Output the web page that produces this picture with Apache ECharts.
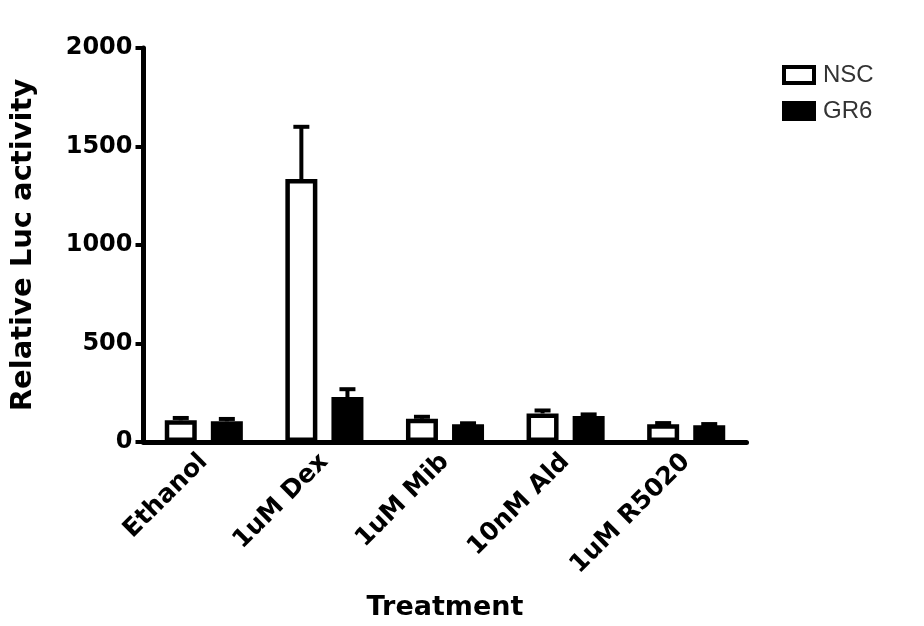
<!DOCTYPE html>
<html>
<head>
<meta charset="utf-8">
<title>Relative Luc activity by treatment</title>
<script src="https://cdn.jsdelivr.net/npm/echarts@6/dist/echarts.min.js"></script>
<style>
  html, body { margin: 0; padding: 0; background: #ffffff; }
  #chart { width: 924px; height: 626px; }
</style>
</head>
<body>
<div id="chart"></div>
<script>
// Treatments on the x axis
const categories = ['Ethanol', '1uM Dex', '1uM Mib', '10nM Ald', '1uM R5020'];
// Mean relative luciferase activity and upper error (SEM) per cell line
const nscValues = [110, 1335, 118, 145, 90];
const nscErrors = [12, 265, 10, 15, 6];
const gr6Values = [105, 228, 90, 132, 85];
const gr6Errors = [12, 40, 5, 8, 6];
const yTicks = [0, 500, 1000, 1500, 2000];

const BAR_W = 32;
const GAP_RATIO = 0.44;
const FONT = 'DejaVu Sans';

// Upward error whiskers centred over each bar of a series
function errorSeries(name, values, errors, side) {
  return {
    type: 'custom',
    name: name + ' err',
    z: 5,
    silent: true,
    data: values.map((v, i) => [i, v, v + errors[i]]),
    renderItem: function (params, api) {
      const off = side * BAR_W * (1 + GAP_RATIO) / 2;
      const base = api.coord([api.value(0), api.value(1)]);
      const top = api.coord([api.value(0), api.value(2)]);
      const x = base[0] + off;
      const capHalf = 8;
      const style = { stroke: '#000', lineWidth: 4, fill: null };
      return {
        type: 'group',
        children: [
          { type: 'line', shape: { x1: x, y1: base[1], x2: x, y2: top[1] }, style: style },
          { type: 'line', shape: { x1: x - capHalf, y1: top[1], x2: x + capHalf, y2: top[1] }, style: style }
        ]
      };
    }
  };
}

const chart = echarts.init(document.getElementById('chart'), null, { renderer: 'canvas' });

chart.setOption({
  backgroundColor: '#ffffff',
  animation: false,
  grid: { left: 143.5, right: 177.5, top: 48, bottom: 183, containLabel: false },
  legend: {
    orient: 'vertical',
    left: 777,
    top: 58,
    icon: 'rect',
    itemWidth: 30,
    itemHeight: 16,
    itemGap: 12,
    textStyle: { fontFamily: 'Liberation Sans', fontSize: 24, color: '#333', padding: [0, 0, 0, 4] },
    data: [
      { name: 'NSC', itemStyle: { color: '#fff', borderColor: '#000', borderWidth: 4 } },
      { name: 'GR6', itemStyle: { color: '#000', borderColor: '#000', borderWidth: 4 } }
    ]
  },
  xAxis: {
    type: 'category',
    data: categories,
    name: 'Treatment',
    nameLocation: 'middle',
    nameGap: 152,
    nameTextStyle: { fontFamily: FONT, fontWeight: 'bold', fontSize: 27, color: '#000' },
    axisLine: { lineStyle: { color: '#000', width: 5 } },
    axisTick: { show: false },
    axisLabel: {
      rotate: 45,
      margin: 16,
      fontFamily: FONT,
      fontWeight: 'bold',
      fontSize: 25,
      color: '#000'
    }
  },
  yAxis: {
    type: 'value',
    min: yTicks[0],
    max: yTicks[yTicks.length - 1],
    interval: yTicks[1] - yTicks[0],
    name: 'Relative Luc activity',
    nameLocation: 'middle',
    nameGap: 106,
    nameTextStyle: { fontFamily: FONT, fontWeight: 'bold', fontSize: 29, color: '#000' },
    axisLine: { show: true, lineStyle: { color: '#000', width: 5 } },
    axisTick: { show: true, length: 8, lineStyle: { color: '#000', width: 4 } },
    splitLine: { show: false },
    axisLabel: {
      margin: 11,
      fontFamily: FONT,
      fontWeight: 'bold',
      fontSize: 24,
      color: '#000',
      formatter: function (v) { return String(v); }
    }
  },
  series: [
    {
      name: 'NSC',
      type: 'bar',
      data: nscValues,
      barWidth: BAR_W,
      barGap: (GAP_RATIO * 100) + '%',
      itemStyle: { color: '#fff', borderColor: '#000', borderWidth: 4.5 }
    },
    {
      name: 'GR6',
      type: 'bar',
      data: gr6Values,
      barWidth: BAR_W,
      barGap: (GAP_RATIO * 100) + '%',
      itemStyle: { color: '#000', borderColor: '#000', borderWidth: 4.5 }
    },
    errorSeries('NSC', nscValues, nscErrors, -1),
    errorSeries('GR6', gr6Values, gr6Errors, 1)
  ]
});
</script>
</body>
</html>
